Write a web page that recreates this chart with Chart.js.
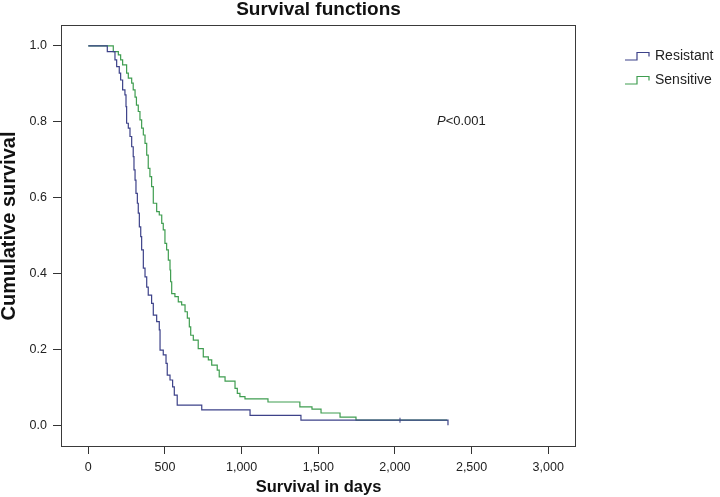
<!DOCTYPE html>
<html>
<head>
<meta charset="utf-8">
<script src="https://cdn.jsdelivr.net/npm/chart.js@4.4.1/dist/chart.umd.min.js"></script>
<style>
html,body{margin:0;padding:0;background:#fff;}
canvas{display:block;}
</style>
</head>
<body>
<canvas id="c" width="720" height="497"></canvas>
<script>
// ---- data ----
const chartTitle = 'Survival functions';
const xAxisTitle = 'Survival in days';
const yAxisTitle = 'Cumulative survival';
const seriesNames = ['Resistant', 'Sensitive'];
const xTickValues = [0, 500, 1000, 1500, 2000, 2500, 3000];
const yTickValues = [0.0, 0.2, 0.4, 0.6, 0.8, 1.0];

const resistantDays = [0,124,174,185,202,211,224,239,246,250,261,272,283,293,298,305,311,320,326,333,342,348,359,370,381,391,413,424,446,463,468,489,507,515,533,550,561,580,740,1055,1387,2346];
const resistantSurv = [1.0,0.985,0.963,0.945,0.928,0.910,0.884,0.871,0.840,0.796,0.783,0.761,0.734,0.708,0.673,0.646,0.611,0.585,0.559,0.523,0.497,0.462,0.414,0.391,0.364,0.343,0.321,0.290,0.273,0.251,0.198,0.185,0.163,0.132,0.119,0.101,0.079,0.053,0.040,0.026,0.013,0.0];
const resistantCensorDays = [2033];
const resistantCensorSurv = [0.013];

const sensitiveDays = [0,163,196,211,224,250,261,283,293,305,314,326,337,348,359,370,381,391,402,413,424,446,463,479,489,500,511,522,533,537,544,565,587,609,631,646,659,668,685,717,750,783,805,841,854,892,957,972,989,1022,1172,1380,1459,1518,1642,1746,2340];
const sensitiveSurv = [1.0,0.985,0.976,0.963,0.950,0.928,0.915,0.902,0.884,0.865,0.844,0.827,0.805,0.783,0.765,0.743,0.712,0.677,0.655,0.629,0.585,0.563,0.554,0.532,0.515,0.479,0.462,0.435,0.409,0.378,0.347,0.339,0.325,0.317,0.299,0.282,0.259,0.237,0.224,0.202,0.180,0.172,0.158,0.145,0.127,0.116,0.097,0.084,0.075,0.069,0.061,0.048,0.042,0.032,0.021,0.013,0.013];

const pValueLabel = ['P', '<0.001'];

// ---- styling ----
const FONT = "'Liberation Sans', Arial, Helvetica, sans-serif";
const BLUE = '#3d4289';
const GREEN = '#3f9d50';
const INK = '#222222';

const toXY = (xs, ys) => xs.map((x, i) => ({x: x, y: ys[i]}));

const overlay = {
  id: 'overlay',
  afterDraw(chart) {
    const {ctx, chartArea: a} = chart;
    ctx.save();
    // plot frame
    ctx.strokeStyle = '#3a3a3a';
    ctx.lineWidth = 1;
    ctx.strokeRect(a.left + 0.5, a.top + 0.5, a.right - a.left - 1, a.bottom - a.top);
    // main title
    ctx.fillStyle = '#111';
    ctx.font = 'bold 19px ' + FONT;
    ctx.textAlign = 'center';
    ctx.textBaseline = 'middle';
    ctx.fillText(chartTitle, (a.left + a.right) / 2, 10);
    // y title
    ctx.save();
    ctx.translate(9, 226);
    ctx.rotate(-Math.PI / 2);
    ctx.font = 'bold 20px ' + FONT;
    ctx.fillText(yAxisTitle, 0, 0);
    ctx.restore();
    // legend with step glyphs
    const colors = [BLUE, GREEN];
    const rowsY = [56, 80];
    ctx.lineWidth = 1.2;
    seriesNames.forEach((name, i) => {
      const y = rowsY[i];
      ctx.strokeStyle = colors[i];
      ctx.beginPath();
      ctx.moveTo(625, y + 4);
      ctx.lineTo(637, y + 4);
      ctx.lineTo(637, y - 3.5);
      ctx.lineTo(649, y - 3.5);
      ctx.lineTo(649, y + 0.5);
      ctx.stroke();
      ctx.fillStyle = INK;
      ctx.font = '14px ' + FONT;
      ctx.textAlign = 'left';
      ctx.textBaseline = 'middle';
      ctx.fillText(name, 655, y);
    });
    // P value
    ctx.fillStyle = INK;
    ctx.textAlign = 'left';
    ctx.textBaseline = 'middle';
    ctx.font = 'italic 13px ' + FONT;
    ctx.fillText(pValueLabel[0], 437, 121);
    const pw = ctx.measureText(pValueLabel[0]).width;
    ctx.font = '13px ' + FONT;
    ctx.fillText(pValueLabel[1], 437 + pw, 121);
    ctx.restore();
  }
};

new Chart(document.getElementById('c'), {
  type: 'line',
  data: {
    datasets: [
      {
        label: seriesNames[0],
        data: toXY(resistantDays, resistantSurv),
        borderColor: BLUE,
        borderWidth: 1.2,
        stepped: 'before',
        pointRadius: 0,
        fill: false,
        order: 1
      },
      {
        label: seriesNames[0] + ' censored',
        data: toXY(resistantCensorDays, resistantCensorSurv),
        type: 'scatter',
        showLine: false,
        pointStyle: 'line',
        rotation: 90,
        pointRadius: 2.5,
        borderColor: BLUE,
        borderWidth: 1,
        order: 0
      },
      {
        label: seriesNames[1],
        data: toXY(sensitiveDays, sensitiveSurv),
        borderColor: GREEN,
        borderWidth: 1.2,
        stepped: 'before',
        pointRadius: 0,
        fill: false,
        order: 2
      }
    ]
  },
  options: {
    responsive: false,
    devicePixelRatio: 1,
    animation: false,
    layout: {padding: {left: 0, top: 25, right: 144, bottom: 0}},
    plugins: {legend: {display: false}, title: {display: false}, tooltip: {enabled: false}},
    scales: {
      x: {
        type: 'linear',
        min: -178,
        max: 3181,
        border: {display: false},
        grid: {drawOnChartArea: false, drawTicks: true, tickLength: 8, color: '#333'},
        ticks: {
          padding: 6,
          color: INK,
          font: {family: FONT, size: 12.5},
          callback: v => v.toLocaleString('en-US')
        },
        afterBuildTicks: s => { s.ticks = xTickValues.map(v => ({value: v})); },
        afterFit: s => { s.height = 51; },
        title: {
          display: true,
          text: xAxisTitle,
          color: '#111',
          font: {family: FONT, size: 16.5, weight: 'bold'},
          padding: {top: 0, bottom: 0}
        }
      },
      y: {
        type: 'linear',
        min: -0.055,
        max: 1.055,
        border: {display: false},
        grid: {drawOnChartArea: false, drawTicks: true, tickLength: 8, color: '#333'},
        ticks: {
          padding: 6,
          color: INK,
          font: {family: FONT, size: 12.5},
          callback: v => Number(v).toFixed(1)
        },
        afterBuildTicks: s => { s.ticks = yTickValues.map(v => ({value: v})); },
        afterFit: s => { s.width = 61; }
      }
    }
  },
  plugins: [overlay]
});
</script>
</body>
</html>
